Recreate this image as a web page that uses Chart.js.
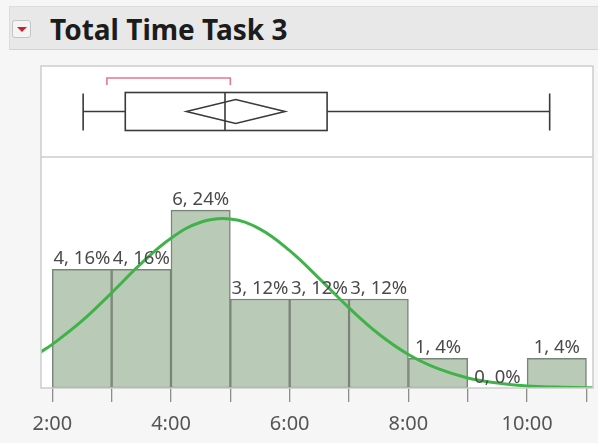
<!DOCTYPE html>
<html>
<head>
<meta charset="utf-8">
<script src="https://cdn.jsdelivr.net/npm/chart.js@4.4.1/dist/chart.umd.min.js"></script>
<style>
  html, body { margin: 0; padding: 0; background: #f6f6f6; }
  #wrap { position: relative; width: 598px; height: 443px; overflow: hidden; }
  #head {
    position: absolute; left: 9px; top: 6px; width: 589px; height: 42px;
    background: #e8e8e8; border-top: 1px solid #dcdcdc; border-bottom: 1px solid #d4d4d4;
    border-left: 1px solid #dcdcdc; z-index: 2;
  }
  #icon {
    position: absolute; left: 2px; top: 13px; width: 17px; height: 16px;
    border: 1px solid #c4c4c4; border-radius: 3px; background: #f4f4f4;
  }
  #icon:after {
    content: ""; position: absolute; left: 4px; top: 6px;
    border-left: 5px solid transparent; border-right: 5px solid transparent;
    border-top: 5px solid #d21f2c;
  }
  #title {
    position: absolute; left: 40px; top: 3px; line-height: 38px;
    font: bold 28px "Noto Sans", sans-serif; color: #1c1c1c;
  }
  canvas { position: absolute; left: 0; top: 0; }
</style>
</head>
<body>
<div id="wrap">
  <div id="head"><div id="icon"></div><div id="title">Total Time Task 3</div></div>
  <canvas id="chart1" width="598" height="443"></canvas>
</div>
<script>
// Data
// ========================================================================
var binStarts = [2, 3, 4, 5, 6, 7, 8, 9, 10];
var counts = [4, 4, 6, 3, 3, 3, 1, 0, 1];
var barLabels = ["4, 16%", "4, 16%", "6, 24%", "3, 12%", "3, 12%", "3, 12%", "1, 4%", "0, 0%", "1, 4%"];

var tickValues = [2, 4, 6, 8, 10];
var tickLabels = ["2:00", "4:00", "6:00", "8:00", "10:00"];

// normal curve (count scale)
var curveX = [1.8, 2, 2.5, 3, 3.5, 4, 4.5, 5, 5.5, 6, 6.5, 7, 7.5, 8, 8.5, 9, 9.5, 10, 10.5, 11, 11.2];
var curveY = [1.21, 1.47, 2.26, 3.21, 4.2, 5.05, 5.59, 5.7, 5.36, 4.63, 3.69, 2.7, 1.82, 1.13, 0.65, 0.34, 0.17, 0.07, 0.03, 0.01, 0.01];

// outlier box plot: whisker low, Q1, median, Q3, whisker high
var boxStats = [2.52, 3.23, 4.91, 6.63, 10.38];
// mean diamond: lower CI, mean, upper CI
var meanDiamond = [4.26, 5.09, 5.92];
// shortest half bracket
var shortestHalf = [2.92, 5.0];

// Layout
// ========================================================================
var boxPanelTop = 66;
var frameColor = "#cdcdcd";

var panelsPlugin = {
  id: "panels",
  beforeDraw: function (chart) {
    var a = chart.chartArea, ctx = chart.ctx;
    ctx.save();
    ctx.fillStyle = "#ffffff";
    ctx.fillRect(a.left, boxPanelTop, a.right - a.left, a.bottom - boxPanelTop);
    ctx.restore();
  },
  afterDraw: function (chart) {
    var a = chart.chartArea, ctx = chart.ctx;
    var px = function (v) { return chart.scales.x.getPixelForValue(v); };

    // bar labels
    var meta = chart.getDatasetMeta(1);
    ctx.save();
    ctx.font = "18.5px 'Noto Sans', sans-serif";
    ctx.fillStyle = "#4a4a4a";
    ctx.textAlign = "center";
    ctx.textBaseline = "bottom";
    meta.data.forEach(function (bar, i) {
      ctx.fillText(barLabels[i], bar.x, bar.y - 1);
    });
    ctx.restore();

    // frame and divider
    ctx.save();
    ctx.strokeStyle = frameColor;
    ctx.lineWidth = 1.5;
    ctx.strokeRect(a.left, boxPanelTop, a.right - a.left, a.bottom - boxPanelTop);
    ctx.beginPath();
    ctx.moveTo(a.left, a.top);
    ctx.lineTo(a.right, a.top);
    ctx.stroke();
    ctx.restore();

    // box plot
    var cy = (boxPanelTop + a.top) / 2;
    ctx.save();
    ctx.strokeStyle = "#3a3a3a";
    ctx.lineWidth = 1.6;
    ctx.beginPath();
    ctx.moveTo(px(boxStats[0]), cy); ctx.lineTo(px(boxStats[1]), cy);
    ctx.moveTo(px(boxStats[3]), cy); ctx.lineTo(px(boxStats[4]), cy);
    ctx.moveTo(px(boxStats[0]), cy - 18); ctx.lineTo(px(boxStats[0]), cy + 19);
    ctx.moveTo(px(boxStats[4]), cy - 18); ctx.lineTo(px(boxStats[4]), cy + 19);
    ctx.moveTo(px(boxStats[2]), cy - 19); ctx.lineTo(px(boxStats[2]), cy + 19);
    ctx.stroke();
    ctx.strokeRect(px(boxStats[1]), cy - 19, px(boxStats[3]) - px(boxStats[1]), 38);

    ctx.beginPath();
    ctx.moveTo(px(meanDiamond[0]), cy);
    ctx.lineTo(px(meanDiamond[1]), cy - 12);
    ctx.lineTo(px(meanDiamond[2]), cy);
    ctx.lineTo(px(meanDiamond[1]), cy + 12);
    ctx.closePath();
    ctx.stroke();

    ctx.strokeStyle = "#e5788a";
    ctx.beginPath();
    ctx.moveTo(px(shortestHalf[0]), boxPanelTop + 19);
    ctx.lineTo(px(shortestHalf[0]), boxPanelTop + 12);
    ctx.lineTo(px(shortestHalf[1]), boxPanelTop + 12);
    ctx.lineTo(px(shortestHalf[1]), boxPanelTop + 19);
    ctx.stroke();
    ctx.restore();
  }
};

// Chart
// ========================================================================
var chartEl = document.getElementById("chart1");

new Chart(chartEl, {
  type: "bar",
  data: {
    datasets: [{
      type: "line",
      data: curveX.map(function (x, i) { return { x: x, y: curveY[i] }; }),
      borderColor: "#3fb34a",
      borderWidth: 3,
      pointRadius: 0,
      tension: 0.4,
      fill: false,
      order: 0
    }, {
      type: "bar",
      data: binStarts.map(function (b, i) { return { x: b + 0.5, y: counts[i] }; }),
      backgroundColor: "#b9cbb6",
      borderColor: "#7a8579",
      borderWidth: 1.5,
      borderSkipped: false,
      barPercentage: 1,
      categoryPercentage: 1,
      order: 1
    }]
  },
  options: {
    responsive: false,
    animation: false,
    layout: { padding: { left: 41, right: 5, top: 157, bottom: 0 } },
    plugins: { legend: { display: false }, tooltip: { enabled: false } },
    scales: {
      x: {
        type: "linear",
        offset: false,
        min: 1.81,
        max: 11.11,
        afterFit: function (scale) { scale.height = 55; },
        grid: { offset: false, drawOnChartArea: false, drawTicks: true, tickLength: 14, color: "#8d8d8d", lineWidth: 1.3 },
        border: { display: false },
        ticks: {
          stepSize: 1,
          includeBounds: false,
          autoSkip: false,
          maxRotation: 0,
          padding: 10,
          color: "#555555",
          font: { family: "'Noto Sans', sans-serif", size: 20 },
          callback: function (v) {
            var i = tickValues.indexOf(v);
            return i >= 0 ? tickLabels[i] : "";
          }
        }
      },
      y: {
        display: false,
        min: 0,
        max: 7.79
      }
    }
  },
  plugins: [panelsPlugin]
});
</script>
</body>
</html>
